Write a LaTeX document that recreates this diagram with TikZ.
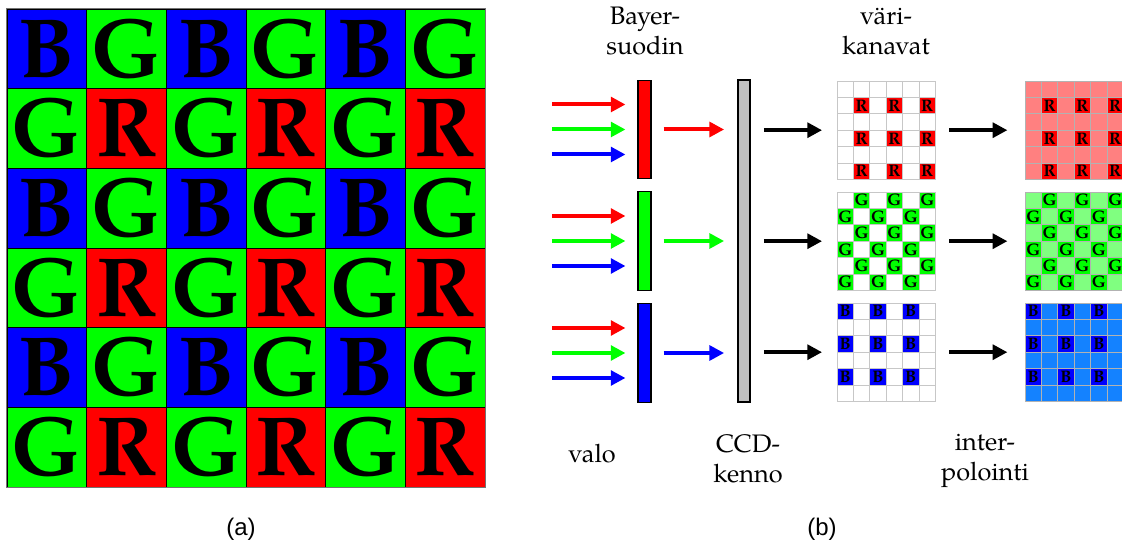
\documentclass[tikz,border=0pt]{standalone}
\usepackage{fontspec}
\setmainfont{TeX Gyre Pagella}
\setsansfont{Liberation Sans}
\usetikzlibrary{arrows.meta}

\definecolor{bred}{RGB}{255,0,0}
\definecolor{bgreen}{RGB}{0,255,0}
\definecolor{bblue}{RGB}{0,0,255}
\definecolor{lred}{RGB}{255,128,128}
\definecolor{lgreen}{RGB}{128,255,128}
\definecolor{lblue}{RGB}{20,130,255}
\definecolor{ccdgray}{RGB}{192,192,192}

\tikzset{
  bigcell/.style={draw=black, line width=0.6pt, inner sep=0pt,
    minimum size=59.75pt, font=\fontsize{63}{63}\selectfont\bfseries},
  chbox/.style={draw=none, inner sep=0pt, minimum size=73.8pt},
  chcell/.style={inner sep=0pt, minimum size=12.3pt, line width=0.6pt,
    font=\fontsize{12.5}{12.5}\selectfont\bfseries},
  filterbar/.style={draw=black, line width=0.8pt, inner sep=0pt,
    minimum width=9.75pt, minimum height=74pt},
  ray/.style={line width=3pt, -{Triangle[length=11pt,width=11pt]}},
  lbl/.style={align=center, inner sep=0pt, font=\fontsize{19}{23}\selectfont},
  subcap/.style={inner sep=0pt, font=\sffamily\fontsize{18}{18}\selectfont},
}

% one channel grid: name, left x, top y, base fill, sample fill, letter,
% sample pattern (in \r and \c), grid line colour
\newcommand\chgrid[8]{%
  \node[chbox, fill=#4] (#1) at ({#2+49.2},{#3+49.2}) {};
  \foreach \r in {0,...,5}{\foreach \c in {0,...,5}{%
    \pgfmathtruncatemacro\on{#7}%
    \ifnum\on=1
      \node[chcell, fill=#5, draw=#8] (#1-\r-\c)
        at ({#2+(\c+0.5)*16.4},{#3+(\r+0.5)*16.4}) {#6};
    \else
      \node[chcell, fill=#4, draw=#8] (#1-\r-\c)
        at ({#2+(\c+0.5)*16.4},{#3+(\r+0.5)*16.4}) {};
    \fi
  }}%
}

\begin{document}
\begin{tikzpicture}[x=0.75pt, y=-0.75pt]
\useasboundingbox (0,0) rectangle (1122,548);

% (a) Bayer mosaic
\foreach \r in {0,...,5}{\foreach \c in {0,...,5}{%
  \pgfmathtruncatemacro\p{2*mod(\r,2)+mod(\c,2)}%
  \ifcase\p \def\col{bblue}\def\ltr{B}%
  \or \def\col{bgreen}\def\ltr{G}%
  \or \def\col{bgreen}\def\ltr{G}%
  \or \def\col{bred}\def\ltr{R}\fi
  \node[bigcell, fill=\col] (m-\r-\c) at ({7+(\c+0.5)*79.67},{9+(\r+0.5)*79.67}) {\ltr};
}}
\draw[black!55, line width=0.8pt] (m-0-0.north west) rectangle (m-5-5.south east);
\node[subcap, anchor=base] (capa) at (241,536) {(a)};

% (b) filter, sensor and colour channels
\node[filterbar, fill=bred]   (fR) at (644.5,129.5) {};
\node[filterbar, fill=bgreen] (fG) at (644.5,241) {};
\node[filterbar, fill=bblue]  (fB) at (644.5,353) {};
\node[filterbar, fill=ccdgray, minimum width=9pt, minimum height=241.5pt] (ccd) at (744,241) {};

% incoming light
\foreach \f/\yc in {R/129.5, G/241, B/353}{
  \coordinate (in\f r) at (552,\yc-25);
  \coordinate (in\f g) at (552,\yc);
  \coordinate (in\f b) at (552,\yc+25);
  \draw[ray, bred,   shorten >=9pt] (in\f r) -- (in\f r -| f\f.west);
  \draw[ray, bgreen, shorten >=9pt] (in\f g) -- (in\f g -| f\f.west);
  \draw[ray, bblue,  shorten >=9pt] (in\f b) -- (in\f b -| f\f.west);
}

% filtered light onto the sensor
\draw[ray, bred,   shorten <=9pt, shorten >=10pt] (fR.east) -- (ccd.west |- fR.east);
\draw[ray, bgreen, shorten <=9pt, shorten >=10pt] (fG.east) -- (ccd.west |- fG.east);
\draw[ray, bblue,  shorten <=9pt, shorten >=10pt] (fB.east) -- (ccd.west |- fB.east);

% sampled channels
\chgrid{cR}{837}{81}{white}{bred}{R}{mod(\r,2)*mod(\c,2)}{black!22}
\chgrid{cG}{837}{192}{white}{bgreen}{G}{mod(\r+\c,2)}{black!22}
\chgrid{cB}{837}{303}{white}{bblue}{B}{(1-mod(\r,2))*(1-mod(\c,2))}{black!22}

% interpolated channels
\chgrid{iR}{1025}{81}{lred}{bred}{R}{mod(\r,2)*mod(\c,2)}{black!30}
\chgrid{iG}{1025}{192}{lgreen}{bgreen}{G}{mod(\r+\c,2)}{black!30}
\chgrid{iB}{1025}{303}{lblue}{bblue}{B}{(1-mod(\r,2))*(1-mod(\c,2))}{black!30}

% sensor read-out and interpolation
\foreach \g in {R,G,B}{
  \draw[ray, black, shorten <=10pt, shorten >=11pt] (ccd.east |- c\g) -- (c\g.west);
  \draw[ray, black, shorten <=10pt, shorten >=13pt] (c\g.east) -- (i\g.west);
}

% labels (base anchor sits on the last line)
\node[lbl, anchor=base] (tBayer) at (645,55) {Bayer-\\suodin};
\node[lbl, anchor=base] (tvari)  at (886,55) {väri-\\kanavat};
\node[lbl, anchor=base] (tvalo)  at (592,463) {valo};
\node[lbl, anchor=base] (tccd)   at (748,483) {CCD-\\kenno};
\node[lbl, anchor=base] (tint)   at (985,481) {inter-\\polointi};
\node[subcap, anchor=base] (capb) at (822,536) {(b)};
\end{tikzpicture}
\end{document}
